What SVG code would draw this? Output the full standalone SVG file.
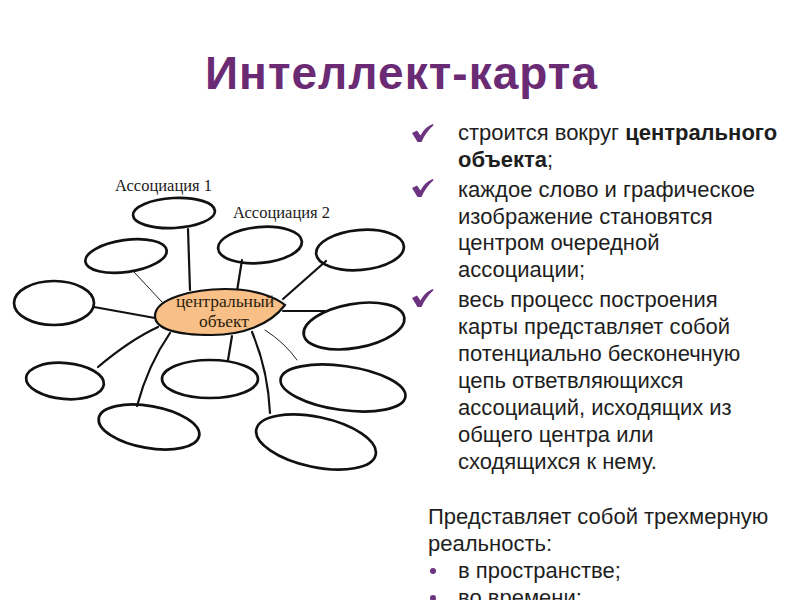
<svg xmlns="http://www.w3.org/2000/svg" width="800" height="600" viewBox="0 0 800 600">
<style>
.title{font-family:"Liberation Sans",Arial,sans-serif;font-weight:bold;font-size:46px;fill:#6a2b74}
.body{font-family:"Liberation Sans",Arial,sans-serif;font-size:22px;fill:#1e1e1e}
.lbl{font-family:"Liberation Serif","Times New Roman",serif;font-size:16.5px;fill:#1a1a1a}
.ctr{font-family:"Liberation Serif","Times New Roman",serif;font-size:17.5px;fill:#2b1d0e}
.bub{fill:none;stroke:#111;stroke-width:2.7}
.con{fill:none;stroke:#111;stroke-width:2.2;stroke-linecap:round}
.thin{fill:none;stroke:#222;stroke-width:1;stroke-linecap:round}
.chk{fill:#6c3480}
.dot{fill:#6c3480}
</style>
<defs>
<path id="check" d="M0,9 L5,6.5 L8.5,11.5 C12,5 16,2 21,0 L21.5,1.2 C16.5,5.5 12.5,11 9.5,18 L5.5,18 Z"/>
</defs>
<rect width="800" height="600" fill="#fff"/>
<text class="title" x="205" y="89" textLength="392" lengthAdjust="spacing">Интеллект-карта</text>

<g id="connectors">
<line class="con" x1="188" y1="229" x2="190" y2="290"/>
<line class="con" x1="242" y1="260" x2="237" y2="291"/>
<line class="thin" x1="134" y1="272" x2="162" y2="302"/>
<line class="con" x1="326" y1="261" x2="283" y2="299"/>
<line class="con" x1="94" y1="307" x2="155" y2="318"/>
<line class="con" x1="283" y1="311" x2="325" y2="311"/>
<path class="con" d="M98,367 Q130,340 158,327"/>
<line class="con" x1="232" y1="336" x2="228" y2="360"/>
<path class="thin" d="M265,330 Q285,343 297,360"/>
<path class="con" d="M170,333 Q148,365 137,406"/>
<path class="con" d="M252,332 Q268,370 270,413"/>
</g>

<g id="n-central">
<path d="M155,316 C155,298 195,289 225,289 C255,289 275,297 285,305 C270,325 242,335 212,335 C180,335 155,330 155,316 Z" fill="#f8bf86" stroke="#111" stroke-width="2.2"/>
<text class="ctr" x="225" y="307" text-anchor="middle">центральный</text>
<text class="ctr" x="224" y="327" text-anchor="middle">объект</text>
</g>
<g id="n-a1">
<ellipse class="bub" cx="174" cy="213" rx="41" ry="15" transform="rotate(-3 174 213)"/>
<text class="lbl" x="115" y="191">Ассоциация 1</text>
</g>
<g id="n-a2">
<ellipse class="bub" cx="260" cy="245" rx="42" ry="18" transform="rotate(-5 260 245)"/>
<text class="lbl" x="233" y="218">Ассоциация 2</text>
</g>
<g id="n-ul"><ellipse class="bub" cx="126" cy="256" rx="41" ry="16" transform="rotate(-8 126 256)"/></g>
<g id="n-ru"><ellipse class="bub" cx="360" cy="250" rx="44" ry="20" transform="rotate(-5 360 250)"/></g>
<g id="n-l"><ellipse class="bub" cx="54" cy="303" rx="40" ry="22"/></g>
<g id="n-r"><ellipse class="bub" cx="354" cy="326" rx="51" ry="22" transform="rotate(-10 354 326)"/></g>
<g id="n-ll"><ellipse class="bub" cx="65" cy="381" rx="39" ry="18" transform="rotate(5 65 381)"/></g>
<g id="n-b"><ellipse class="bub" cx="210" cy="379" rx="48" ry="19"/></g>
<g id="n-rl"><ellipse class="bub" cx="343" cy="388" rx="63" ry="22" transform="rotate(8 343 388)"/></g>
<g id="n-bl"><ellipse class="bub" cx="149" cy="427" rx="51" ry="21" transform="rotate(10 149 427)"/></g>
<g id="n-br"><ellipse class="bub" cx="316" cy="442" rx="61" ry="25" transform="rotate(12 316 442)"/></g>

<g id="bullets">
<use href="#check" class="chk" x="412" y="124"/>
<use href="#check" class="chk" x="412" y="179"/>
<use href="#check" class="chk" x="412" y="289"/>
<text class="body" x="458" y="140">строится вокруг <tspan font-weight="bold">центрального</tspan></text>
<text class="body" x="458" y="167"><tspan font-weight="bold">объекта</tspan>;</text>
<text class="body" x="458" y="197">каждое слово и графическое</text>
<text class="body" x="458" y="224">изображение становятся</text>
<text class="body" x="458" y="250">центром очередной</text>
<text class="body" x="458" y="277">ассоциации;</text>
<text class="body" x="458" y="307">весь процесс построения</text>
<text class="body" x="458" y="334">карты представляет собой</text>
<text class="body" x="458" y="361">потенциально бесконечную</text>
<text class="body" x="458" y="388">цепь ответвляющихся</text>
<text class="body" x="458" y="415">ассоциаций, исходящих из</text>
<text class="body" x="458" y="442">общего центра или</text>
<text class="body" x="458" y="469">сходящихся к нему.</text>
</g>
<g id="reality">
<text class="body" x="428" y="524">Представляет собой трехмерную</text>
<text class="body" x="428" y="551">реальность:</text>
<circle class="dot" cx="433" cy="571" r="3"/>
<text class="body" x="458" y="578">в пространстве;</text>
<circle class="dot" cx="433" cy="598" r="3"/>
<text class="body" x="458" y="605">во времени;</text>
</g>
</svg>
